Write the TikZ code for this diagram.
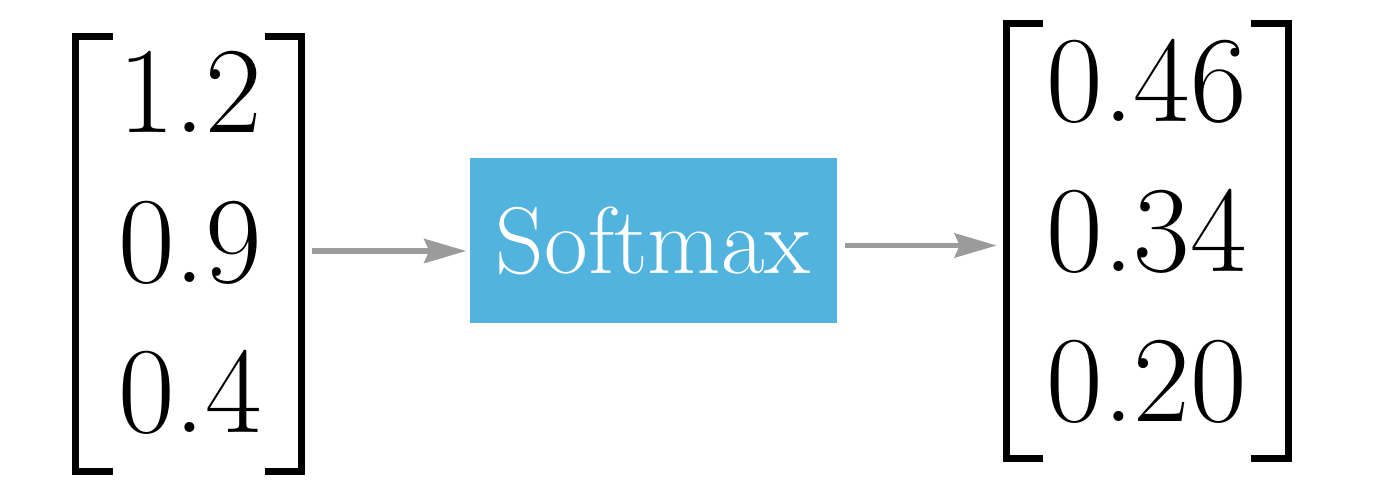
\RequirePackage{fix-cm}
\documentclass[tikz,border=0pt]{standalone}
\usepackage{tikz}
\usetikzlibrary{arrows.meta}
\definecolor{softblue}{RGB}{81,179,222}
\definecolor{arrowgray}{RGB}{155,155,155}
\tikzset{
	vec/.style={inner sep=0pt, align=center, font=\fontsize{35}{42.68}\selectfont},
	brk/.style={line width=0.07cm, miter limit=10},
	softbox/.style={fill=softblue, text=white, minimum width=3.667cm, minimum height=1.65cm, inner sep=0pt, font=\fontsize{27}{32}\selectfont},
	flow/.style={draw=arrowgray, line width=1.6pt, -{Stealth[length=4.2mm, width=2.4mm, inset=0.5mm]}}
}
% pair of square brackets: (left x:right x:top y:bottom y)
\def\sqbrackets(#1:#2:#3:#4){
	\draw[brk] ({#1+0.37}, #3) -- (#1, #3) -- (#1, #4) -- ({#1+0.37}, #4);
	\draw[brk] ({#2-0.37}, #3) -- (#2, #3) -- (#2, #4) -- ({#2-0.37}, #4);
}

\begin{document}
\begin{tikzpicture}
			%%%%% START %%%%%
			\useasboundingbox (0, 0) rectangle (13.86, 5);
			
			\node[vec] (logits) at (1.90, 2.575) {1.2\\0.9\\0.4};
			\sqbrackets(0.755:3.015:4.635:0.285)
			
			\node[softbox] (softmax) at (6.533, 2.592) {Softmax};
			
			\node[vec] (probs) at (11.467, 2.685) {0.46\\0.34\\0.20};
			\sqbrackets(10.062:12.882:4.765:0.418)
			
			\coordinate (logitsout) at (3.117, 2.49);
			\coordinate (probsin) at (9.967, 2.545);
			\draw[flow, shorten >=0.03cm] (logitsout) -- (logitsout -| softmax.west);
			\draw[flow, shorten <=0.08cm] (softmax.east |- probsin) -- (probsin);
			%%%%% END %%%%%
\end{tikzpicture}
\end{document}
